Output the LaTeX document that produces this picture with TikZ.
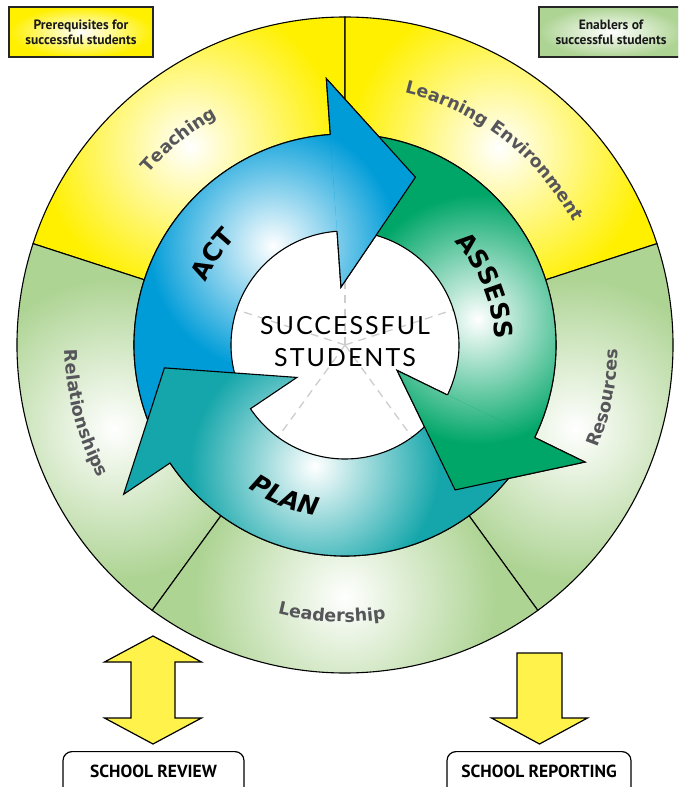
\documentclass[tikz,border=0pt]{standalone}
\usepackage{fontspec}
\setmainfont{PT Sans}
\newfontfamily\djv{DejaVu Sans}
\newfontfamily\latofont[LetterSpace=8]{Lato}
\usetikzlibrary{calc,decorations.text,shadows}
\definecolor{ringY}{RGB}{255,240,0}
\definecolor{ringG}{RGB}{174,212,148}
\definecolor{actC}{RGB}{0,156,216}
\definecolor{assC}{RGB}{0,166,104}
\definecolor{planC}{RGB}{20,166,170}
\definecolor{arrY}{RGB}{255,242,75}
\definecolor{lblC}{RGB}{85,85,90}
\definecolor{spokeC}{RGB}{205,205,205}
\newcommand\ringfont{\djv\bfseries\fontsize{17.5pt}{20pt}\selectfont}
\newcommand\cyclefont{\djv\bfseries\fontsize{25pt}{28pt}\selectfont}
% ring segment: from angle, to angle, colour, glow centre
\newcommand\ringseg[4]{%
  \begin{scope}
    \clip (#1:328) arc[start angle=#1, end angle=#2, radius=328] -- (#2:211) arc[start angle=#2, end angle=#1, radius=211] -- cycle;
    \fill[#3] (ctr) circle (340);
    \shade[inner color=white, outer color=#3] #4 circle (150);
  \end{scope}
  \draw[blackline] (#1:328) arc[start angle=#1, end angle=#2, radius=328] -- (#2:211) arc[start angle=#2, end angle=#1, radius=211] -- cycle;
}
% whole arrow: name, base angle, tail angle, colour, glow centre
\newcommand\cyclearrow[5]{%
  \coordinate (#1tip) at ($(#2:162.5)+({#2-90}:82)$);
  \begin{scope}
    \clip (#3:211) arc[start angle=#3, end angle=#2, radius=211] -- (#2:267) -- (#1tip) -- (#2:58) -- (#2:114) arc[start angle=#2, end angle=#3, radius=114] -- cycle;
    \fill[#4] (ctr) circle (280);
    \shade[inner color=white, outer color=#4] #5 circle (125);
  \end{scope}
  \draw[blackline] (#3:211) arc[start angle=#3, end angle=#2, radius=211] -- (#2:267) -- (#1tip) -- (#2:58) -- (#2:114) arc[start angle=#2, end angle=#3, radius=114] -- cycle;
}
% arrow head redrawn on top: name, base angle, colour, glow centre
\newcommand\arrhead[4]{%
  \begin{scope}
    \clip (#2:211) -- (#2:267) -- (#1tip) -- (#2:58) -- (#2:114) -- cycle;
    \fill[#3] (ctr) circle (280);
    \shade[inner color=white, outer color=#3] #4 circle (125);
  \end{scope}
  \draw[blackline] (#2:211) -- (#2:267) -- (#1tip) -- (#2:58) -- (#2:114);
}
\begin{document}
\begin{tikzpicture}[x=1pt,y=1pt,
  blackline/.style={draw=black, line width=1.1pt, line join=miter},
  spoke/.style={draw=spokeC, line width=1.3pt, dash pattern=on 8pt off 6pt},
  legendbox/.style={draw=black!85, line width=1.2pt, minimum width=144pt, minimum height=50pt,
    align=center, text=black!90, font=\bfseries\fontsize{13.5pt}{15pt}\selectfont,
    drop shadow={shadow xshift=1.5pt, shadow yshift=-1.5pt, opacity=0.6}},
  schoolbox/.style={draw=black, line width=1.2pt, rounded corners=9pt, fill=white,
    minimum width=181pt, text height=12.4pt, text depth=20pt, inner ysep=13.8pt, inner xsep=0pt,
    font=\bfseries\fontsize{17.5pt}{20pt}\selectfont},
  blockarrow/.style={draw=black, line width=1.2pt, fill=arrY, line join=miter}]
\useasboundingbox (-345,-442) rectangle (333,345);
\clip (-345,-442) rectangle (333,345);
\fill[white] (-345,-442) rectangle (333,345);
\coordinate (ctr) at (0,0);

% outer ring
\ringseg{90}{162}{ringY}{(128:252)}
\ringseg{18}{90}{ringY}{(52:250)}
\ringseg{162}{234}{ringG}{(200:245)}
\ringseg{-54}{18}{ringG}{(340:245)}
\ringseg{234}{306}{ringG}{(270:252)}

% ring labels
\path[decorate, decoration={text along path, text={|\ringfont|Teaching}, text align=center, text color=lblC}]
  (169:261) arc[start angle=169, end angle=89, radius=261];
\path[decorate, decoration={text along path, text={|\ringfont|Learning Environment}, text align=center, text color=lblC}]
  (97.5:259) arc[start angle=97.5, end angle=7.5, radius=259];
\path[decorate, decoration={text along path, text={|\ringfont|Relationships}, text align=center, text color=lblC}]
  (154.7:280) arc[start angle=154.7, end angle=234.7, radius=280];
\path[decorate, decoration={text along path, text={|\ringfont|Resources}, text align=center, text color=lblC}]
  (308.5:273) arc[start angle=308.5, end angle=388.5, radius=273];
\path[decorate, decoration={text along path, text={|\ringfont|Leadership}, text align=center, text color=lblC}]
  (227.2:277) arc[start angle=227.2, end angle=307.2, radius=277];

% spokes in the centre
\foreach \a in {18,90,162,234,306} \draw[spoke] (ctr) -- (\a:114);

% cycle arrows
\cyclearrow{act}{94}{209}{actC}{(126:122)}
\cyclearrow{ass}{-26}{89}{assC}{(11:135)}
\cyclearrow{plan}{214}{329}{planC}{(256:125)}
\arrhead{act}{94}{actC}{(126:122)}
\arrhead{ass}{-26}{assC}{(11:135)}

% cycle labels
\path[decorate, decoration={text along path, text={|\cyclefont|ACT}, text align=center}]
  (185.7:153) arc[start angle=185.7, end angle=105.7, radius=153];
\path[decorate, decoration={text along path, text={|\cyclefont|ASSESS}, text align=center}]
  (62.8:150) arc[start angle=62.8, end angle=-17.2, radius=150];
\path[decorate, decoration={text along path, text={|\cyclefont\itshape|PLAN}, text align=center}]
  (208.5:173) arc[start angle=208.5, end angle=288.5, radius=173];

% centre text
\node[font=\latofont\fontsize{25pt}{30pt}\selectfont, inner sep=0pt] (succ) at (0,19.5) {SUCCESSFUL};
\node[font=\latofont\fontsize{25pt}{30pt}\selectfont, inner sep=0pt] (stud) at (0,-12.5) {STUDENTS};

% legend boxes
\node[legendbox, inner color=white, outer color=ringY] (prereq) at (-264,313) {Prerequisites for\\successful students};
\node[legendbox, inner color=white, outer color=ringG] (enab) at (266,313) {Enablers of\\successful students};

% bottom block arrows
\draw[blockarrow] (-192,-291) -- (-143.5,-317) -- (-170,-317) -- (-170,-373) -- (-143.5,-373) -- (-192,-399)
  -- (-240.5,-373) -- (-214,-373) -- (-214,-317) -- (-240.5,-317) -- cycle;
\draw[blockarrow] (172,-308) -- (217,-308) -- (217,-373) -- (242.5,-373) -- (194.5,-399) -- (146.5,-373)
  -- (172,-373) -- cycle;

% bottom boxes
\node[schoolbox, anchor=north] (review) at (-191.5,-406) {SCHOOL REVIEW};
\node[schoolbox, anchor=north, minimum width=184pt] (reporting) at (194,-406) {SCHOOL REPORTING};
\end{tikzpicture}
\end{document}
